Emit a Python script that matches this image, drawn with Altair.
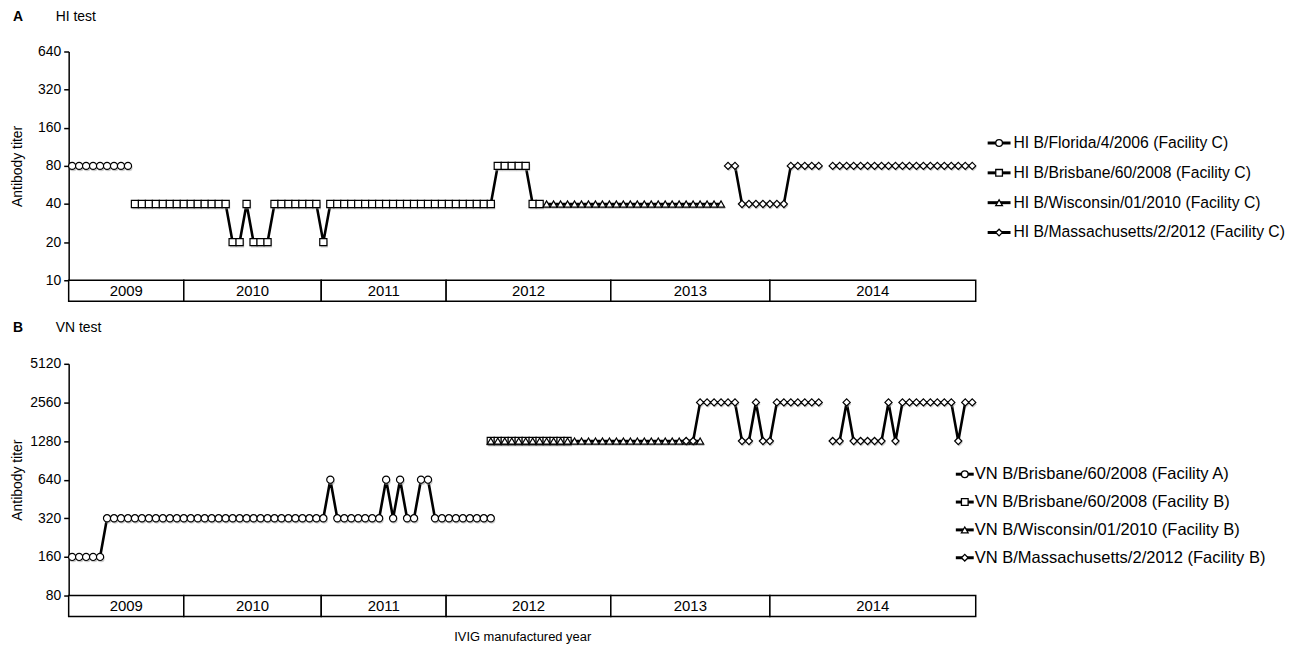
import altair as alt
import pandas as pd

FONT = "Liberation Sans"

# ---------------- Panel A : HI test ----------------
A_names = [
    "HI B/Florida/4/2006 (Facility C)",
    "HI B/Brisbane/60/2008 (Facility C)",
    "HI B/Wisconsin/01/2010 (Facility C)",
    "HI B/Massachusetts/2/2012 (Facility C)",
]
A_florida_start = 0
A_florida = [80, 80, 80, 80, 80, 80, 80, 80, 80]
A_brisbane_start = 9
A_brisbane = [40, 40, 40, 40, 40, 40, 40, 40, 40, 40, 40, 40, 40, 40,
              20, 20, 40, 20, 20, 20,
              40, 40, 40, 40, 40, 40, 40, 20,
              40, 40, 40, 40, 40, 40, 40, 40, 40, 40, 40, 40,
              40, 40, 40, 40, 40, 40, 40, 40, 40, 40, 40, 40,
              80, 80, 80, 80, 80, 40, 40]
A_wisconsin_start = 68
A_wisconsin = [40, 40, 40, 40, 40, 40, 40, 40, 40, 40, 40, 40, 40,
               40, 40, 40, 40, 40, 40, 40, 40, 40, 40, 40, 40, 40]
A_mass_start = 94
A_mass = [80, 80, 40, 40, 40, 40, 40, 40, 40, 80, 80, 80, 80, 80, None,
          80, 80, 80, 80, 80, 80, 80, 80, 80, 80, 80, 80, 80, 80, 80, 80,
          80, 80, 80, 80, 80]

# ---------------- Panel B : VN test ----------------
B_names = [
    "VN B/Brisbane/60/2008 (Facility A)",
    "VN B/Brisbane/60/2008 (Facility B)",
    "VN B/Wisconsin/01/2010 (Facility B)",
    "VN B/Massachusetts/2/2012 (Facility B)",
]
B_brisA_start = 0
B_brisA = [160, 160, 160, 160, 160,
           320, 320, 320, 320, 320, 320, 320, 320, 320, 320, 320, 320, 320, 320, 320, 320,
           320, 320, 320, 320, 320, 320, 320, 320, 320, 320, 320, 320, 320, 320, 320, 320,
           640, 320, 320, 320, 320, 320, 320, 320, 640, 320, 640, 320, 320, 640, 640,
           320, 320, 320, 320, 320, 320, 320, 320, 320]
B_brisB_start = 60
B_brisB = [1280, 1280, 1280, 1280, 1280, 1280, 1280, 1280, 1280, 1280, 1280, 1280]
B_wisc_start = 60
B_wisc = [1280, 1280, 1280, 1280, 1280, 1280, 1280, 1280, 1280, 1280, 1280,
          1280, 1280, 1280, 1280, 1280, 1280, 1280, 1280, 1280, 1280, 1280,
          1280, 1280, 1280, 1280, 1280, 1280, 1280, 1280, 1280]
B_mass_start = 88
B_mass = [1280, 1280, 2560, 2560, 2560, 2560, 2560, 2560, 1280, 1280, 2560, 1280, 1280,
          2560, 2560, 2560, 2560, 2560, 2560, 2560, None, 1280, 1280, 2560,
          1280, 1280, 1280, 1280, 1280, 2560, 1280,
          2560, 2560, 2560, 2560, 2560, 2560, 2560, 2560, 1280, 2560, 2560]

SHAPES = ["circle", "square", "triangle-up", "diamond"]
SHAPE_KEYS = ["s0", "s1", "s2", "s3"]

years = ["2009", "2010", "2011", "2012", "2013", "2014"]
year_edges = [-0.5, 16.0, 35.7, 53.6, 77.2, 100.0, 129.5]

A_ticks = [10, 20, 40, 80, 160, 320, 640]
B_ticks = [80, 160, 320, 640, 1280, 2560, 5120]

XDOM = [-0.5, 129.5]
W = 912
MARKER = 52


def build(names, series):
    rows = []
    for k, (start, vals) in enumerate(series):
        seg = 0
        for j, v in enumerate(vals):
            if v is None:
                seg += 1
                continue
            rows.append(dict(series=names[k], skey=SHAPE_KEYS[k], lot=start + j,
                             titer=v, seg=f"{k}-{seg}", k=k))
    return pd.DataFrame(rows)


def panel(df, names, ticks, height, letter, test, title_y, leg):
    shape_scale = alt.Scale(domain=SHAPE_KEYS, range=SHAPES)
    x = alt.X("lot:Q", scale=alt.Scale(domain=XDOM, nice=False, zero=False), axis=None)
    yscale = alt.Scale(type="log", base=2, domain=[ticks[0], ticks[-1]], nice=False)
    y = alt.Y("titer:Q", scale=yscale,
              axis=alt.Axis(values=ticks, format="d", title="Antibody titer",
                            titleFont=FONT, titleFontSize=14, titleFontWeight="normal",
                            titleColor="black", titlePadding=6,
                            labelFont=FONT, labelFontSize=14, labelColor="black",
                            labelPadding=3, tickColor="black", tickSize=5, tickWidth=1.5,
                            domainColor="black", domainWidth=1.5, grid=False,
                            minExtent=38, maxExtent=38))
    lines = alt.Chart(df).mark_line(strokeWidth=2.6, color="black").encode(
        x=x, y=y, detail="seg:N", order="lot:Q")
    shadow = alt.Chart(df).mark_point(filled=True, fill="#9a9a9a", strokeWidth=0,
                                      size=MARKER, opacity=0.5, xOffset=1, yOffset=1.8).encode(
        x=x, y=y, shape=alt.Shape("skey:N", scale=shape_scale, legend=None))
    points = alt.Chart(df).mark_point(filled=True, fill="white", stroke="black",
                                      strokeWidth=1.2, size=MARKER, opacity=1).encode(
        x=x, y=y, shape=alt.Shape("skey:N", scale=shape_scale, legend=None), order="k:Q")
    data_layer = alt.layer(lines, shadow, points)

    # hand-built legend: line + marker + label, one row per series
    ldf = pd.DataFrame({"name": names, "skey": SHAPE_KEYS, "row": [0, 1, 2, 3]})
    ly = alt.Y("row:Q", scale=alt.Scale(domain=[0, 3], range=[leg["y0"], leg["y3"]]),
               axis=None)
    lrule = alt.Chart(ldf).mark_rule(color="black", strokeWidth=3).encode(
        x=alt.value(leg["x0"]), x2=alt.value(leg["x1"]), y=ly)
    lpts = alt.Chart(ldf).mark_point(filled=True, fill="white", stroke="black",
                                     strokeWidth=1.3, size=45, opacity=1).encode(
        x=alt.value((leg["x0"] + leg["x1"]) / 2), y=ly,
        shape=alt.Shape("skey:N", scale=shape_scale, legend=None))
    ltxt = alt.Chart(ldf).mark_text(font=FONT, fontSize=leg["font"], align="left",
                                    baseline="middle", color="black").encode(
        x=alt.value(leg["xt"]), y=ly, text="name:N")
    legend_layer = alt.layer(lrule, lpts, ltxt)

    lab = alt.Chart(pd.DataFrame({"t": [letter]})).mark_text(
        font=FONT, fontSize=14, fontWeight="bold", align="left", baseline="middle",
        color="black").encode(text="t:N", x=alt.value(-56), y=alt.value(title_y))
    ttl = alt.Chart(pd.DataFrame({"t": [test]})).mark_text(
        font=FONT, fontSize=14, align="left", baseline="middle",
        color="black").encode(text="t:N", x=alt.value(-13), y=alt.value(title_y))
    return alt.layer(data_layer, legend_layer, lab, ttl).resolve_scale(
        y="independent").properties(width=W, height=height)


def strip(xtitle=None):
    ydf = pd.DataFrame({"year": years, "x0": year_edges[:-1], "x1": year_edges[1:]})
    if xtitle:
        ax = alt.Axis(title=xtitle, labels=False, ticks=False, domain=False,
                      titleFont=FONT, titleFontSize=13, titleFontWeight="normal",
                      titleColor="black", titlePadding=14)
    else:
        ax = None
    x = alt.X("x0:Q", scale=alt.Scale(domain=XDOM, nice=False, zero=False), axis=ax)
    rect = alt.Chart(ydf).mark_rect(fill="white", stroke="black", strokeWidth=1.5).encode(
        x=x, x2="x1:Q", y=alt.value(0), y2=alt.value(21))
    txt = alt.Chart(ydf).transform_calculate(xm="(datum.x0 + datum.x1) / 2").mark_text(
        font=FONT, fontSize=15, color="black", baseline="middle").encode(
        x=alt.X("xm:Q", scale=alt.Scale(domain=XDOM, nice=False, zero=False)),
        text="year:N", y=alt.value(10.5))
    return alt.layer(rect, txt).properties(width=W, height=21)


dfA = build(A_names, [(A_florida_start, A_florida), (A_brisbane_start, A_brisbane),
                      (A_wisconsin_start, A_wisconsin), (A_mass_start, A_mass)])
dfB = build(B_names, [(B_brisA_start, B_brisA), (B_brisB_start, B_brisB),
                      (B_wisc_start, B_wisc), (B_mass_start, B_mass)])

legA = dict(x0=924, x1=947, xt=950, y0=92, y3=182, font=15.8)
legB = dict(x0=892, x1=910, xt=911, y0=111, y3=195, font=16.6)

pA = panel(dfA, A_names, A_ticks, 230, "A", "HI test", -35, legA)
pB = panel(dfB, B_names, B_ticks, 233, "B", "VN test", -36, legB)

res = dict(shape="independent", x="independent", y="independent")

gA = alt.vconcat(pA, strip(), spacing=0, bounds="flush").resolve_scale(**res)
gB = alt.vconcat(pB, strip("IVIG manufactured year"), spacing=0,
                 bounds="flush").resolve_scale(**res)

chart = alt.vconcat(gA, gB, spacing=19).resolve_scale(**res).properties(
    padding={"left": 3, "top": 0, "right": 5, "bottom": 0},
    background="white",
).configure_view(stroke=None)

chart.save("out.html", embed_options={"renderer": "svg", "actions": False})
